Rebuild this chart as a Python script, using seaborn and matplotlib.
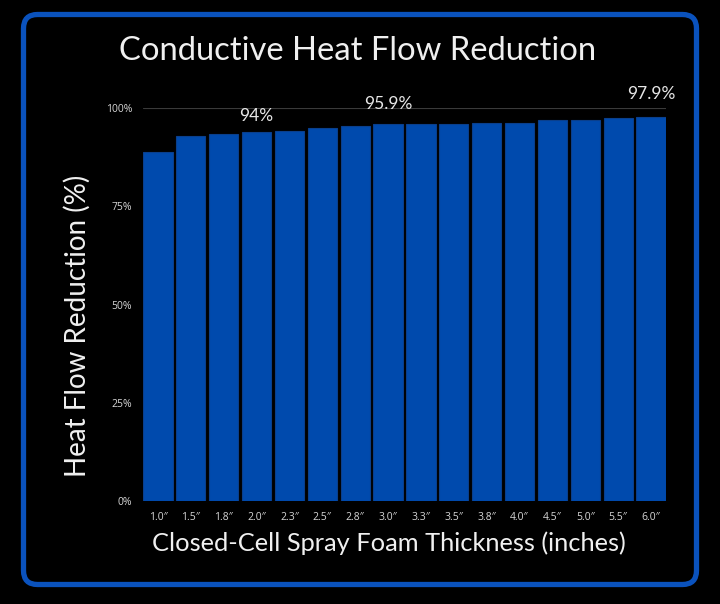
import pandas as pd
import seaborn as sns
import matplotlib.pyplot as plt
from matplotlib.patches import FancyBboxPatch

# datos
espesor = ["1.0″", "1.5″", "1.8″", "2.0″", "2.3″", "2.5″", "2.8″", "3.0″",
           "3.3″", "3.5″", "3.8″", "4.0″", "4.5″", "5.0″", "5.5″", "6.0″"]
reduccion = [88.8, 92.9, 93.4, 94.0, 94.1, 95.0, 95.6, 95.9,
             96.0, 96.1, 96.2, 96.3, 96.9, 97.0, 97.5, 97.9]
etiquetas = {3: "94%", 7: "95.9%", 15: "97.9%"}
y_ticks = [0, 25, 50, 75, 100]
y_tick_labels = ["0%", "25%", "50%", "75%", "100%"]

df = pd.DataFrame({"espesor": espesor, "reduccion": reduccion})

sns.set_style("dark")
plt.rcParams['font.family'] = ['Lato', 'DejaVu Sans']

fig = plt.figure(figsize=(7.2, 6.04), dpi=100, facecolor="black")

# marco azul redondeado
fondo = fig.add_axes([0, 0, 1, 1], zorder=0)
fondo.set_xlim(0, 720)
fondo.set_ylim(604, 0)
fondo.axis("off")
fondo.add_patch(FancyBboxPatch((23.5, 14.5), 673, 570,
                               boxstyle="round,pad=0,rounding_size=14",
                               fill=False, edgecolor="#0a52bd", linewidth=3.8))

ax = fig.add_axes([143.3 / 720, 103 / 604, 522.4 / 720, 392.7 / 604], zorder=1)
ax.set_facecolor("black")
ax.grid(False)
ax.axhline(100, color="#3a3a3a", linewidth=0.8, zorder=0)

sns.barplot(data=df, x="espesor", y="reduccion", color="#004aad",
            saturation=1, width=0.89, edgecolor="#0a3f8c", linewidth=0.8, ax=ax)

ax.set_xlim(-0.445, 15.445)
ax.set_ylim(0, 100)
ax.set_yticks(y_ticks)
ax.set_yticklabels(y_tick_labels)
ax.tick_params(axis="both", colors="#d6d6d6", labelsize=7.5, length=0)
ax.tick_params(axis="x", pad=8)
ax.tick_params(axis="y", pad=8)
for lab in ax.get_xticklabels() + ax.get_yticklabels():
    lab.set_family(['Open Sans', 'DejaVu Sans'])
for s in ax.spines.values():
    s.set_visible(False)
ax.set_xlabel("")
ax.set_ylabel("")

desplaz = {3: 8, 7: 12, 15: 15}
for i, txt in etiquetas.items():
    ax.annotate(txt, (i, reduccion[i]), xytext=(0, desplaz[i]), textcoords="offset pixels",
                ha="center", va="bottom", color="#e6e6e6", fontsize=12.5, annotation_clip=False)

fig.text(358 / 720, 1 - 51 / 604, "Conductive Heat Flow Reduction", ha="center", va="center",
         color="#f0f0f0", fontsize=23.6)
fig.text(77 / 720, 1 - 326 / 604, "Heat Flow Reduction (%)", ha="center", va="center",
         rotation=90, color="#f0f0f0", fontsize=20)
fig.text(389 / 720, 1 - 543 / 604, "Closed-Cell Spray Foam Thickness (inches)", ha="center",
         va="center", color="#f0f0f0", fontsize=18.3)

fig.savefig("out.png", dpi=100, facecolor="black")
